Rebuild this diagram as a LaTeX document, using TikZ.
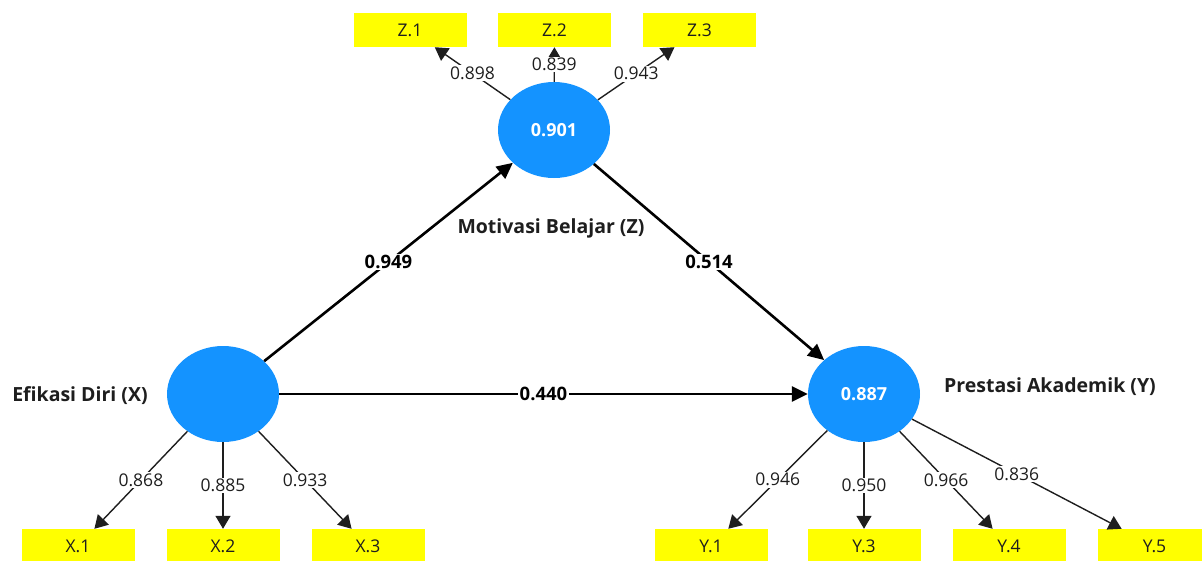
\documentclass[tikz,border=0pt]{standalone}
\usepackage{fontspec}
\setmainfont{Open Sans}
\usetikzlibrary{arrows.meta,shapes.geometric}
\definecolor{lvblue}{RGB}{20,147,255}
\definecolor{mvyellow}{RGB}{255,255,0}
\definecolor{txtdark}{RGB}{30,30,30}
\begin{document}
\begin{tikzpicture}[x=1pt,y=-1pt,
  latent/.style={ellipse, fill=lvblue, minimum width=112pt, minimum height=96pt, inner sep=0pt, text=white, font=\bfseries\fontsize{18}{21}\selectfont},
  indbox/.style={rectangle, fill=mvyellow, minimum width=113pt, minimum height=34pt, inner sep=0pt, text=txtdark, font=\fontsize{17.5}{20}\selectfont},
  cname/.style={text=txtdark, font=\bfseries\fontsize{19.5}{22}\selectfont},
  loadarrow/.style={draw=txtdark, line width=1.4pt, -{Triangle[length=13pt,width=15pt]}},
  patharrow/.style={draw=black, line width=2.6pt, -{Triangle[length=16pt,width=15pt]}},
  loadlbl/.style={midway, fill=white, inner sep=1.5pt, text=txtdark, font=\fontsize{17.5}{20}\selectfont},
  pathlbl/.style={midway, fill=white, inner sep=1.5pt, text=black, font=\bfseries\fontsize{18.5}{21}\selectfont}
]
\useasboundingbox (0,0) rectangle (1202,560);

% latent variables
\node[latent] (Z) at (554,130) {0.901};
\node[latent] (X) at (223,394) {};
\node[latent] (Y) at (864,394) {0.887};

% names
\node[cname] (zname) at (551,228) {Motivasi Belajar (Z)};
\node[cname] (xname) at (80,396) {Efikasi Diri (X)};
\node[cname] (yname) at (1050,387) {Prestasi Akademik (Y)};

% indicators
\node[indbox] (z1) at (410,30) {Z.1};
\node[indbox] (z2) at (554.5,30) {Z.2};
\node[indbox] (z3) at (699.5,30) {Z.3};
\node[indbox] (x1) at (78,546) {X.1};
\node[indbox] (x2) at (223,546) {X.2};
\node[indbox] (x3) at (368,546) {X.3};
\node[indbox] (y1) at (711,546) {Y.1};
\node[indbox] (y3) at (864,546) {Y.3};
\node[indbox] (y4) at (1009,546) {Y.4};
\node[indbox] (y5) at (1154.5,546) {Y.5};

% loadings
\draw[loadarrow] (Z) -- (z1) node[loadlbl] {0.898};
\draw[loadarrow] (Z) -- (z2) node[loadlbl] {0.839};
\draw[loadarrow] (Z) -- (z3) node[loadlbl] {0.943};
\draw[loadarrow] (X) -- (x1) node[loadlbl] {0.868};
\draw[loadarrow] (X) -- (x2) node[loadlbl] {0.885};
\draw[loadarrow] (X) -- (x3) node[loadlbl] {0.933};
\draw[loadarrow] (Y) -- (y1) node[loadlbl] {0.946};
\draw[loadarrow] (Y) -- (y3) node[loadlbl] {0.950};
\draw[loadarrow] (Y) -- (y4) node[loadlbl] {0.966};
\draw[loadarrow] (Y) -- (y5) node[loadlbl] {0.836};

% structural paths
\draw[patharrow] (X) -- (Z) node[pathlbl] {0.949};
\draw[patharrow] (Z) -- (Y) node[pathlbl] {0.514};
\draw[patharrow] (X) -- (Y) node[pathlbl] {0.440};
\end{tikzpicture}
\end{document}
